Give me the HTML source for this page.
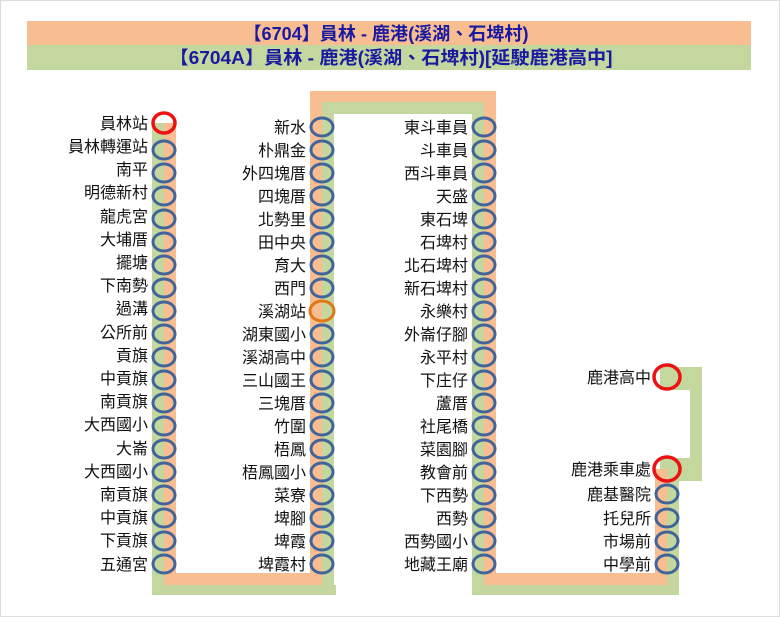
<!DOCTYPE html>
<html><head><meta charset="utf-8"><style>
html,body{margin:0;padding:0;background:#fff;}
svg{display:block;}
text{font-family:"Liberation Sans","Noto Sans CJK TC",sans-serif;}
</style></head><body>
<svg width="780" height="617" viewBox="0 0 780 617" xmlns="http://www.w3.org/2000/svg">
<rect x="0.5" y="0.5" width="779" height="616" fill="#fff" stroke="#ddd"/>
<rect x="27" y="21" width="724" height="24" fill="#f8be92"/>
<rect x="27" y="45" width="724" height="25" fill="#c4d79e"/>
<text x="386" y="40" font-size="18" font-weight="bold" fill="#1a1aa0" text-anchor="middle" textLength="285" lengthAdjust="spacingAndGlyphs">【6704】員林  - 鹿港(溪湖、石埤村)</text>
<text x="391" y="64" font-size="18" font-weight="bold" fill="#1a1aa0" text-anchor="middle" textLength="443" lengthAdjust="spacingAndGlyphs">【6704A】員林 - 鹿港(溪湖、石埤村)[延駛鹿港高中]</text>
<!-- tracks green -->
<rect x="152" y="123" width="12" height="472" fill="#c4d79e"/>
<rect x="152" y="585" width="184" height="10" fill="#c4d79e"/>
<rect x="322" y="102" width="12" height="493" fill="#c4d79e"/>
<rect x="322" y="102" width="162" height="12" fill="#c4d79e"/>
<rect x="472" y="102" width="12" height="493" fill="#c4d79e"/>
<rect x="472" y="585" width="207" height="10" fill="#c4d79e"/>
<rect x="667" y="469" width="12" height="126" fill="#c4d79e"/>
<rect x="660" y="367" width="42" height="23" fill="#c4d79e"/>
<rect x="690" y="367" width="12" height="114" fill="#c4d79e"/>
<rect x="660" y="458" width="42" height="23" fill="#c4d79e"/>
<!-- tracks orange -->
<rect x="164" y="123" width="12" height="462" fill="#f8be92"/>
<rect x="164" y="573" width="158" height="12" fill="#f8be92"/>
<rect x="310" y="91" width="12" height="494" fill="#f8be92"/>
<rect x="310" y="91" width="186" height="11" fill="#f8be92"/>
<rect x="484" y="91" width="12" height="494" fill="#f8be92"/>
<rect x="484" y="573" width="183" height="12" fill="#f8be92"/>
<rect x="655" y="469" width="12" height="116" fill="#f8be92"/>
<g font-size="16" fill="#111" text-anchor="end">
<text x="148" y="129">員林站</text><text x="148" y="152">員林轉運站</text><text x="148" y="175">南平</text><text x="148" y="198">明德新村</text><text x="148" y="222">龍虎宮</text><text x="148" y="245">大埔厝</text><text x="148" y="268">擺塘</text><text x="148" y="291">下南勢</text><text x="148" y="314">過溝</text><text x="148" y="338">公所前</text><text x="148" y="361">貢旗</text><text x="148" y="384">中貢旗</text><text x="148" y="407">南貢旗</text><text x="148" y="430">大西國小</text><text x="148" y="454">大崙</text><text x="148" y="477">大西國小</text><text x="148" y="500">南貢旗</text><text x="148" y="523">中貢旗</text><text x="148" y="546">下貢旗</text><text x="148" y="570">五通宮</text>
<text x="306" y="133">新水</text><text x="306" y="156">朴鼎金</text><text x="306" y="179">外四塊厝</text><text x="306" y="202">四塊厝</text><text x="306" y="225">北勢里</text><text x="306" y="248">田中央</text><text x="306" y="271">育大</text><text x="306" y="294">西門</text><text x="306" y="317">溪湖站</text><text x="306" y="340">湖東國小</text><text x="306" y="363">溪湖高中</text><text x="306" y="386">三山國王</text><text x="306" y="409">三塊厝</text><text x="306" y="432">竹圍</text><text x="306" y="455">梧鳳</text><text x="306" y="478">梧鳳國小</text><text x="306" y="501">菜寮</text><text x="306" y="524">埤腳</text><text x="306" y="547">埤霞</text><text x="306" y="570">埤霞村</text>
<text x="468" y="133">東斗車員</text><text x="468" y="156">斗車員</text><text x="468" y="179">西斗車員</text><text x="468" y="202">天盛</text><text x="468" y="225">東石埤</text><text x="468" y="248">石埤村</text><text x="468" y="271">北石埤村</text><text x="468" y="294">新石埤村</text><text x="468" y="317">永樂村</text><text x="468" y="340">外崙仔腳</text><text x="468" y="363">永平村</text><text x="468" y="386">下庄仔</text><text x="468" y="409">蘆厝</text><text x="468" y="432">社尾橋</text><text x="468" y="455">菜園腳</text><text x="468" y="478">教會前</text><text x="468" y="501">下西勢</text><text x="468" y="524">西勢</text><text x="468" y="547">西勢國小</text><text x="468" y="570">地藏王廟</text>
<text x="651" y="383">鹿港高中</text><text x="651" y="475">鹿港乘車處</text><text x="651" y="500">鹿基醫院</text><text x="651" y="524">托兒所</text><text x="651" y="547">市場前</text><text x="651" y="570">中學前</text>
</g>
<g fill="none" stroke="#41659a" stroke-width="3">
<ellipse cx="164" cy="150" rx="11" ry="9"/><ellipse cx="164" cy="173" rx="11" ry="9"/><ellipse cx="164" cy="196" rx="11" ry="9"/><ellipse cx="164" cy="219" rx="11" ry="9"/><ellipse cx="164" cy="242" rx="11" ry="9"/><ellipse cx="164" cy="265" rx="11" ry="9"/><ellipse cx="164" cy="288" rx="11" ry="9"/><ellipse cx="164" cy="311" rx="11" ry="9"/><ellipse cx="164" cy="334" rx="11" ry="9"/><ellipse cx="164" cy="357" rx="11" ry="9"/><ellipse cx="164" cy="380" rx="11" ry="9"/><ellipse cx="164" cy="403" rx="11" ry="9"/><ellipse cx="164" cy="426" rx="11" ry="9"/><ellipse cx="164" cy="449" rx="11" ry="9"/><ellipse cx="164" cy="472" rx="11" ry="9"/><ellipse cx="164" cy="495" rx="11" ry="9"/><ellipse cx="164" cy="518" rx="11" ry="9"/><ellipse cx="164" cy="541" rx="11" ry="9"/><ellipse cx="164" cy="564" rx="11" ry="9"/>
<ellipse cx="322" cy="127" rx="11" ry="9"/><ellipse cx="322" cy="150" rx="11" ry="9"/><ellipse cx="322" cy="173" rx="11" ry="9"/><ellipse cx="322" cy="196" rx="11" ry="9"/><ellipse cx="322" cy="219" rx="11" ry="9"/><ellipse cx="322" cy="242" rx="11" ry="9"/><ellipse cx="322" cy="265" rx="11" ry="9"/><ellipse cx="322" cy="288" rx="11" ry="9"/><ellipse cx="322" cy="334" rx="11" ry="9"/><ellipse cx="322" cy="357" rx="11" ry="9"/><ellipse cx="322" cy="380" rx="11" ry="9"/><ellipse cx="322" cy="403" rx="11" ry="9"/><ellipse cx="322" cy="426" rx="11" ry="9"/><ellipse cx="322" cy="449" rx="11" ry="9"/><ellipse cx="322" cy="472" rx="11" ry="9"/><ellipse cx="322" cy="495" rx="11" ry="9"/><ellipse cx="322" cy="518" rx="11" ry="9"/><ellipse cx="322" cy="541" rx="11" ry="9"/><ellipse cx="322" cy="564" rx="11" ry="9"/>
<ellipse cx="484" cy="127" rx="11" ry="9"/><ellipse cx="484" cy="150" rx="11" ry="9"/><ellipse cx="484" cy="173" rx="11" ry="9"/><ellipse cx="484" cy="196" rx="11" ry="9"/><ellipse cx="484" cy="219" rx="11" ry="9"/><ellipse cx="484" cy="242" rx="11" ry="9"/><ellipse cx="484" cy="265" rx="11" ry="9"/><ellipse cx="484" cy="288" rx="11" ry="9"/><ellipse cx="484" cy="311" rx="11" ry="9"/><ellipse cx="484" cy="334" rx="11" ry="9"/><ellipse cx="484" cy="357" rx="11" ry="9"/><ellipse cx="484" cy="380" rx="11" ry="9"/><ellipse cx="484" cy="403" rx="11" ry="9"/><ellipse cx="484" cy="426" rx="11" ry="9"/><ellipse cx="484" cy="449" rx="11" ry="9"/><ellipse cx="484" cy="472" rx="11" ry="9"/><ellipse cx="484" cy="495" rx="11" ry="9"/><ellipse cx="484" cy="518" rx="11" ry="9"/><ellipse cx="484" cy="541" rx="11" ry="9"/><ellipse cx="484" cy="564" rx="11" ry="9"/>
<ellipse cx="667" cy="494" rx="11" ry="9"/><ellipse cx="667" cy="518" rx="11" ry="9"/><ellipse cx="667" cy="541" rx="11" ry="9"/><ellipse cx="667" cy="564" rx="11" ry="9"/>
</g>
<ellipse cx="322" cy="311" rx="12" ry="10" fill="none" stroke="#e07818" stroke-width="3"/>
<g fill="none" stroke="#ee1111" stroke-width="3.5">
<ellipse cx="164" cy="123" rx="11" ry="10"/>
<ellipse cx="667" cy="377" rx="13" ry="12"/>
<ellipse cx="667" cy="469" rx="13" ry="12"/>
</g>
</svg>
</body></html>
